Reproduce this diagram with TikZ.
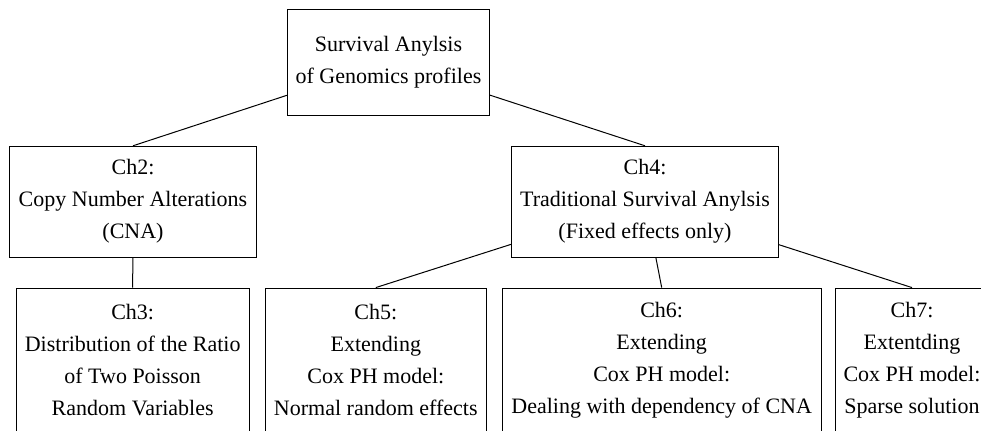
\documentclass[tikz,border=0pt]{standalone}
\usepackage{fontspec}
\setmainfont{Liberation Serif}
\usepackage{tikz}
\tikzset{chapbox/.style={draw=black,align=center,inner sep=0pt,font=\fontsize{11}{16}\selectfont},link/.style={draw=black,line width=0.5pt}}

\begin{document}
\begin{tikzpicture}[x=0.5pt,y=-0.5pt]
\clip (0,0) rectangle (981,431);
\node[chapbox,minimum width=101pt,minimum height=53pt] (root) at (388.5,62) {Survival Anylsis\\of Genomics profiles};
\node[chapbox,minimum width=123.7pt,minimum height=55.5pt] (ch2) at (133,201.7) {Ch2:\\Copy Number Alterations\\(CNA)};
\node[chapbox,minimum width=133.3pt,minimum height=55.5pt] (ch4) at (645,201.7) {Ch4:\\Traditional Survival Anylsis\\(Fixed effects only)};
\node[chapbox,minimum width=116.7pt,minimum height=72pt] (ch3) at (132.7,360) {Ch3:\\Distribution of the Ratio\\of Two Poisson\\Random Variables};
\node[chapbox,minimum width=110.8pt,minimum height=72pt] (ch5) at (375.8,360) {Ch5:\\Extending\\Cox PH model:\\Normal random effects};
\node[chapbox,minimum width=159.3pt,minimum height=72pt] (ch6) at (661.7,360) {Ch6:\\Extending\\Cox PH model:\\Dealing with dependency of CNA};
\node[chapbox,minimum width=76.5pt,minimum height=72pt] (ch7) at (912,360) {Ch7:\\Extentding\\Cox PH model:\\Sparse solution};
\draw[link] (root)--(ch2.north);
\draw[link] (root)--(ch4.north);
\draw[link] (ch2)--(ch3.north);
\draw[link] (ch4)--(ch5.north);
\draw[link] (ch4)--(ch6.north);
\draw[link] (ch4)--(ch7.north);
\end{tikzpicture}
\end{document}
